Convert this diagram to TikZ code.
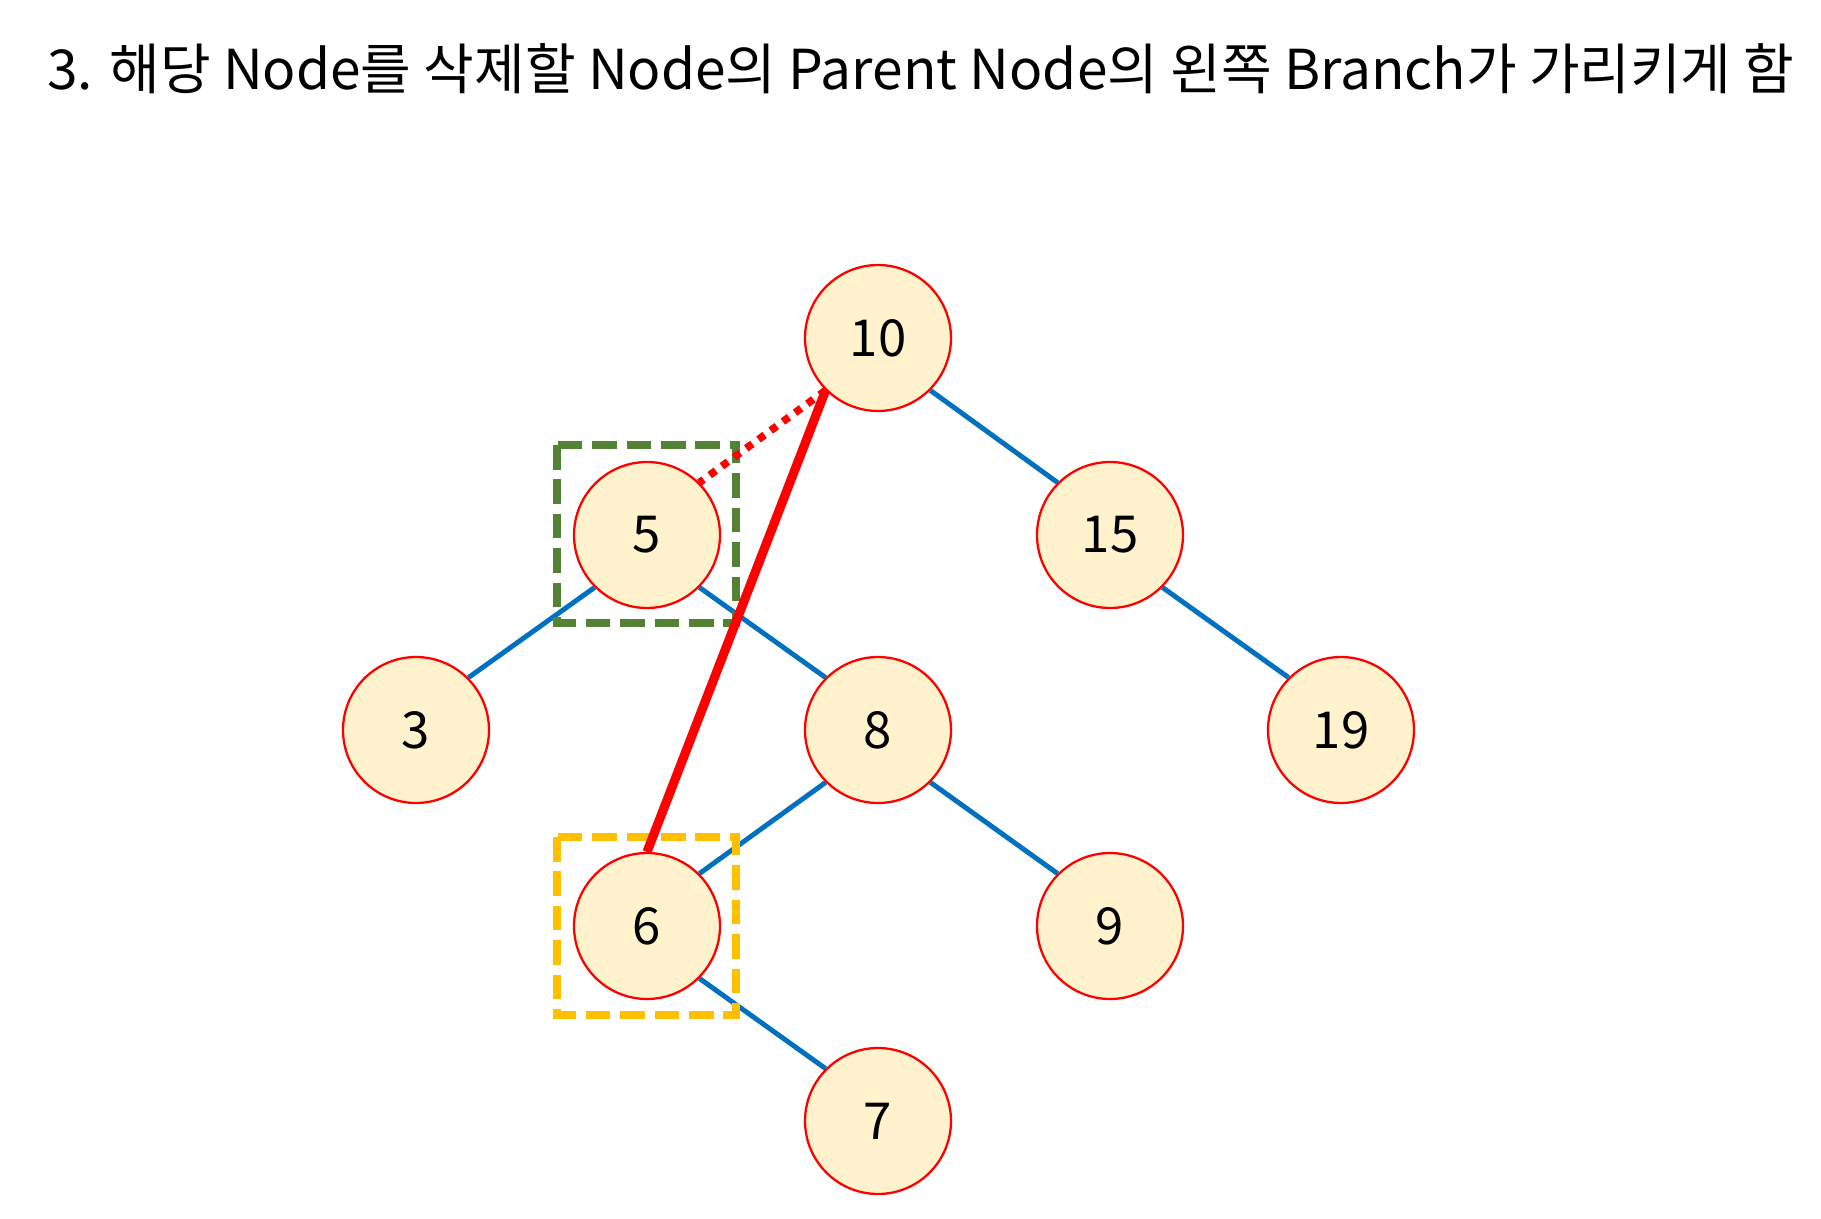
\documentclass[tikz,border=0pt]{standalone}
\usepackage{fontspec}
\setmainfont{Noto Sans CJK KR}
\newfontfamily\krfont{Noto Sans CJK KR}
\pgfdeclarelayer{bg}
\pgfsetlayers{bg,main}
\definecolor{nodefill}{HTML}{FFF2CC}
\definecolor{edgeblue}{HTML}{0070C0}
\definecolor{boxgreen}{HTML}{548235}
\definecolor{boxyellow}{HTML}{FFC000}
\definecolor{hired}{HTML}{FF0000}
\tikzset{
  treenode/.style={circle, draw=hired, line width=1.3pt, fill=nodefill,
    minimum size=2.92cm, inner sep=0pt, font=\krfont\fontsize{29}{29}\selectfont},
  edge/.style={draw=edgeblue, line width=2.8pt},
  markbox/.style={line width=4.5pt, dash pattern=on 14pt off 5.6pt},
  newlink/.style={draw=hired, line width=5.2pt},
  oldlink/.style={draw=hired, line width=4.3pt, dash pattern=on 4.3pt off 4.3pt}
}
\begin{document}
\begin{tikzpicture}[x=0.02cm, y=-0.02cm]
\useasboundingbox (0,0) rectangle (1821,1219);
\node[anchor=base west, inner sep=0pt] (title) at (47,90)
  {\resizebox{34.95cm}{!}{\krfont 3. 해당 Node를 삭제할 Node의 Parent Node의 왼쪽 Branch가 가리키게 함}};
\node[treenode] (n10) at (878,338) {10};
\node[treenode] (n5) at (647,535) {5};
\node[treenode] (n15) at (1110,535) {15};
\node[treenode] (n3) at (416,730) {3};
\node[treenode] (n8) at (878,730) {8};
\node[treenode] (n19) at (1341,730) {19};
\node[treenode] (n6) at (647,926) {6};
\node[treenode] (n9) at (1110,926) {9};
\node[treenode] (n7) at (878,1121) {7};
\coordinate (g1) at (557,445);
\coordinate (g2) at (736,623);
\coordinate (y1) at (557,837);
\coordinate (y2) at (736,1015);
\begin{pgfonlayer}{bg}
\draw[edge] (n10.south east) -- (n15.north west);
\draw[edge] (n15.south east) -- (n19.north west);
\draw[edge] (n5.south west) -- (n3.north east);
\draw[edge] (n5.south east) -- (n8.north west);
\draw[edge] (n8.south west) -- (n6.north east);
\draw[edge] (n8.south east) -- (n9.north west);
\draw[edge] (n6.south east) -- (n7.north west);
\draw[markbox, draw=boxgreen] (g1) rectangle (g2);
\draw[markbox, draw=boxyellow] (y1) rectangle (y2);
\draw[oldlink] (n10.south west) -- (n5.north east);
\draw[newlink] (n10.south west) -- (n6.north);
\end{pgfonlayer}
\end{tikzpicture}
\end{document}
